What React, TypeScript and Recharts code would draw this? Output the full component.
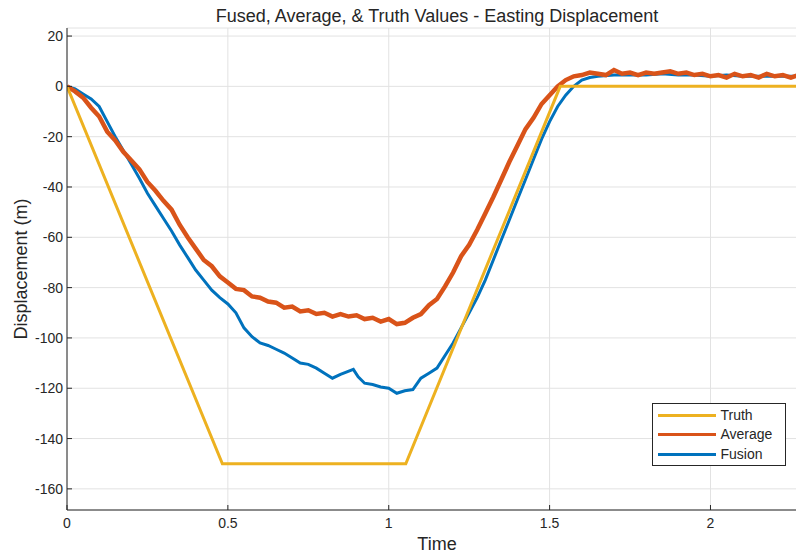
import React from 'react';
import { LineChart, Line, XAxis, YAxis, CartesianGrid, Legend } from 'recharts';

const FONT = '"Liberation Sans", Arial, Helvetica, sans-serif';
const TEXT = '#262626';

const xTicks = [0, 0.5, 1, 1.5, 2];
const yTicks = [-160, -140, -120, -100, -80, -60, -40, -20, 0, 20];

const truthTime = [0, 0.483, 1.053, 1.533, 2.3];
const truthValues = [0, -150, -150, 0, 0];

const averageTime = [
  0, 0.025, 0.05, 0.075, 0.1, 0.125, 0.15, 0.175, 0.2, 0.225, 0.25, 0.275, 0.3, 0.325, 0.35, 0.375,
  0.4, 0.425, 0.45, 0.475, 0.5, 0.525, 0.55, 0.575, 0.6, 0.625, 0.65, 0.675, 0.7, 0.725, 0.75, 0.775,
  0.8, 0.825, 0.85, 0.875, 0.9, 0.925, 0.95, 0.975, 1.0, 1.025, 1.05, 1.075, 1.1, 1.125, 1.15, 1.175,
  1.2, 1.225, 1.25, 1.275, 1.3, 1.325, 1.35, 1.375, 1.4, 1.425, 1.45, 1.475, 1.5, 1.525, 1.55, 1.575,
  1.6, 1.625, 1.65, 1.675, 1.7, 1.725, 1.75, 1.775, 1.8, 1.825, 1.85, 1.875, 1.9, 1.925, 1.95, 1.975,
  2.0, 2.025, 2.05, 2.075, 2.1, 2.125, 2.15, 2.175, 2.2, 2.225, 2.25, 2.275, 2.3,
];
const averageValues = [
  0, -2, -4.5, -8.5, -12, -18, -21.5, -26, -29.5, -33, -38, -41.5, -45.5, -49, -55, -60,
  -64.5, -69, -71.5, -75.5, -78, -80.5, -81, -83.5, -84, -85.5, -86, -88, -87.5, -89.5, -89, -90.5,
  -90, -91.5, -90.5, -91.5, -91, -92.5, -92, -93.5, -92.5, -94.5, -94, -92, -90.5, -87, -84.5, -79.5,
  -74, -67.5, -63, -57, -50.5, -44, -37, -30, -23.5, -17, -12.5, -7, -3.5, 0, 2.5, 4,
  4.5, 5.5, 5, 4.5, 6.5, 5, 5.5, 4.5, 5.5, 5, 5.5, 6, 5, 5.5, 4.5, 5,
  4, 4.5, 3.5, 5, 4, 4.5, 3.5, 5, 4, 4.5, 3.5, 4.5, 4,
];

const fusionTime = [
  0, 0.025, 0.05, 0.075, 0.1, 0.125, 0.15, 0.175, 0.2, 0.225, 0.25, 0.275, 0.3, 0.325, 0.35, 0.375,
  0.4, 0.425, 0.45, 0.475, 0.5, 0.525, 0.55, 0.575, 0.6, 0.625, 0.65, 0.675, 0.7, 0.725, 0.75, 0.775,
  0.8, 0.825, 0.85, 0.87, 0.89, 0.905, 0.925, 0.95, 0.975, 1.0, 1.025, 1.05, 1.075, 1.1, 1.125, 1.15,
  1.175, 1.2, 1.225, 1.25, 1.275, 1.3, 1.325, 1.35, 1.375, 1.4, 1.425, 1.45, 1.475, 1.5, 1.525, 1.55,
  1.575, 1.6, 1.625, 1.65, 1.7, 1.75, 1.8, 1.85, 1.9, 1.95, 2.0, 2.05, 2.1, 2.15, 2.2, 2.25, 2.3,
];
const fusionValues = [
  0, -1, -3, -5, -8, -14, -20, -25.5, -31, -36.5, -42.5, -47.5, -52.5, -57.5, -63, -68,
  -73, -77, -81, -84, -86.5, -90, -96, -99.5, -102, -103, -104.5, -106, -108, -110, -110.5, -112,
  -114, -116, -114.5, -113.5, -112.5, -115.5, -118, -118.5, -119.5, -120, -122, -121, -120.5, -116, -114, -112,
  -107, -102, -96, -90, -84, -77, -69, -61, -53, -45, -37, -29, -21, -14, -8, -3.5,
  0, 2.5, 3.5, 4, 4.5, 4.5, 4.5, 5, 4.5, 4.5, 4, 4.5, 4, 4, 4, 4, 4,
];

const seriesNames = ['Truth', 'Average', 'Fusion'];
const seriesColors = ['#EDB120', '#D95319', '#0072BD'];

const toPoints = (ts: number[], vs: number[]) => ts.map((t, i) => ({ t, v: vs[i] }));
const truthData = toPoints(truthTime, truthValues);
const averageData = toPoints(averageTime, averageValues);
const fusionData = toPoints(fusionTime, fusionValues);

const X_MARGIN = 8;
const Y_MARGIN = 4;
const TICK_LEN = 5;

const XTick = (props: any) => {
  const { x, y, payload } = props;
  const axisY = y - X_MARGIN;
  return (
    <g>
      <line x1={x} x2={x} y1={axisY} y2={axisY - TICK_LEN} stroke={TEXT} strokeWidth={1} />
      <text x={x} y={y} dy="0.71em" textAnchor="middle" fill={TEXT} fontSize={14} fontFamily={FONT}>
        {payload.value}
      </text>
    </g>
  );
};

const TopTick = (props: any) => {
  const { x, y } = props;
  return <line x1={x} x2={x} y1={y} y2={y + TICK_LEN} stroke={TEXT} strokeWidth={1} />;
};

const YTick = (props: any) => {
  const { x, y, payload } = props;
  const axisX = x + Y_MARGIN;
  return (
    <g>
      <line x1={axisX} x2={axisX + TICK_LEN} y1={y} y2={y} stroke={TEXT} strokeWidth={1} />
      <text x={x} y={y} dy="0.355em" textAnchor="end" fill={TEXT} fontSize={14} fontFamily={FONT}>
        {payload.value}
      </text>
    </g>
  );
};

const XTitle = (props: any) => {
  const vb = props.viewBox || {};
  return (
    <text x={vb.x + vb.width / 2} y={vb.y + 40} textAnchor="middle" fill={TEXT} fontSize={18} fontFamily={FONT}>
      Time
    </text>
  );
};

const YTitle = (props: any) => {
  const vb = props.viewBox || {};
  const x = vb.x + 20;
  const y = vb.y + vb.height / 2;
  return (
    <text x={x} y={y} transform={`rotate(-90 ${x} ${y})`} textAnchor="middle" fill={TEXT} fontSize={18} fontFamily={FONT}>
      Displacement (m)
    </text>
  );
};

const LegendBox = () => (
  <div
    style={{
      position: 'relative',
      width: 134,
      height: 63,
      boxSizing: 'border-box',
      border: `1px solid ${TEXT}`,
      background: '#fff',
      fontFamily: FONT,
      fontSize: 14,
      color: TEXT,
    }}
  >
    {seriesNames.map((name, i) => (
      <div
        key={name}
        style={{ position: 'absolute', left: 5, top: 1.5 + i * 19.5, height: 19.5, display: 'flex', alignItems: 'center' }}
      >
        <div style={{ width: 58, height: 3, background: seriesColors[i] }} />
        <span style={{ marginLeft: 4.5, lineHeight: '19.5px' }}>{name}</span>
      </div>
    ))}
  </div>
);

export default function App() {
  return (
    <div style={{ position: 'absolute', left: 0, top: 0, width: 796, height: 554, overflow: 'hidden', background: '#fff' }}>
      <div
        style={{
          position: 'absolute',
          left: 67,
          top: 4.5,
          width: 740,
          textAlign: 'center',
          fontFamily: FONT,
          fontSize: 18,
          lineHeight: '22px',
          color: TEXT,
          zIndex: 2,
        }}
      >
        Fused, Average, &amp; Truth Values - Easting Displacement
      </div>
      <LineChart width={810} height={554} margin={{ top: 28, right: 3, bottom: 14, left: 7 }}>
        <CartesianGrid stroke="#e2e2e2" strokeWidth={1} />
        <XAxis
          dataKey="t"
          type="number"
          domain={[0, 2.3]}
          ticks={xTicks}
          allowDataOverflow
          height={30}
          tickSize={0}
          tickMargin={X_MARGIN}
          tick={<XTick />}
          axisLine={{ stroke: TEXT }}
          label={<XTitle />}
        />
        <XAxis
          xAxisId="top"
          orientation="top"
          dataKey="t"
          type="number"
          domain={[0, 2.3]}
          ticks={xTicks}
          allowDataOverflow
          height={0}
          tickSize={0}
          tickMargin={0}
          tick={<TopTick />}
          axisLine={{ stroke: '#555' }}
        />
        <YAxis
          type="number"
          domain={[-168.4, 23.2]}
          ticks={yTicks}
          allowDataOverflow
          width={60}
          tickSize={0}
          tickMargin={Y_MARGIN}
          tick={<YTick />}
          axisLine={{ stroke: TEXT }}
          label={<YTitle />}
        />
        <Line data={fusionData} dataKey="v" name="Fusion" stroke={seriesColors[2]} strokeWidth={3} dot={false} isAnimationActive={false} type="linear" />
        <Line data={averageData} dataKey="v" name="Average" stroke={seriesColors[1]} strokeWidth={4.5} dot={false} isAnimationActive={false} type="linear" />
        <Line data={truthData} dataKey="v" name="Truth" stroke={seriesColors[0]} strokeWidth={3} dot={false} isAnimationActive={false} type="linear" />
        <Legend
          layout="vertical"
          align="center"
          verticalAlign="middle"
          wrapperStyle={{ left: 652, top: 403, width: 134, height: 63 }}
          content={<LegendBox />}
        />
      </LineChart>
    </div>
  );
}
